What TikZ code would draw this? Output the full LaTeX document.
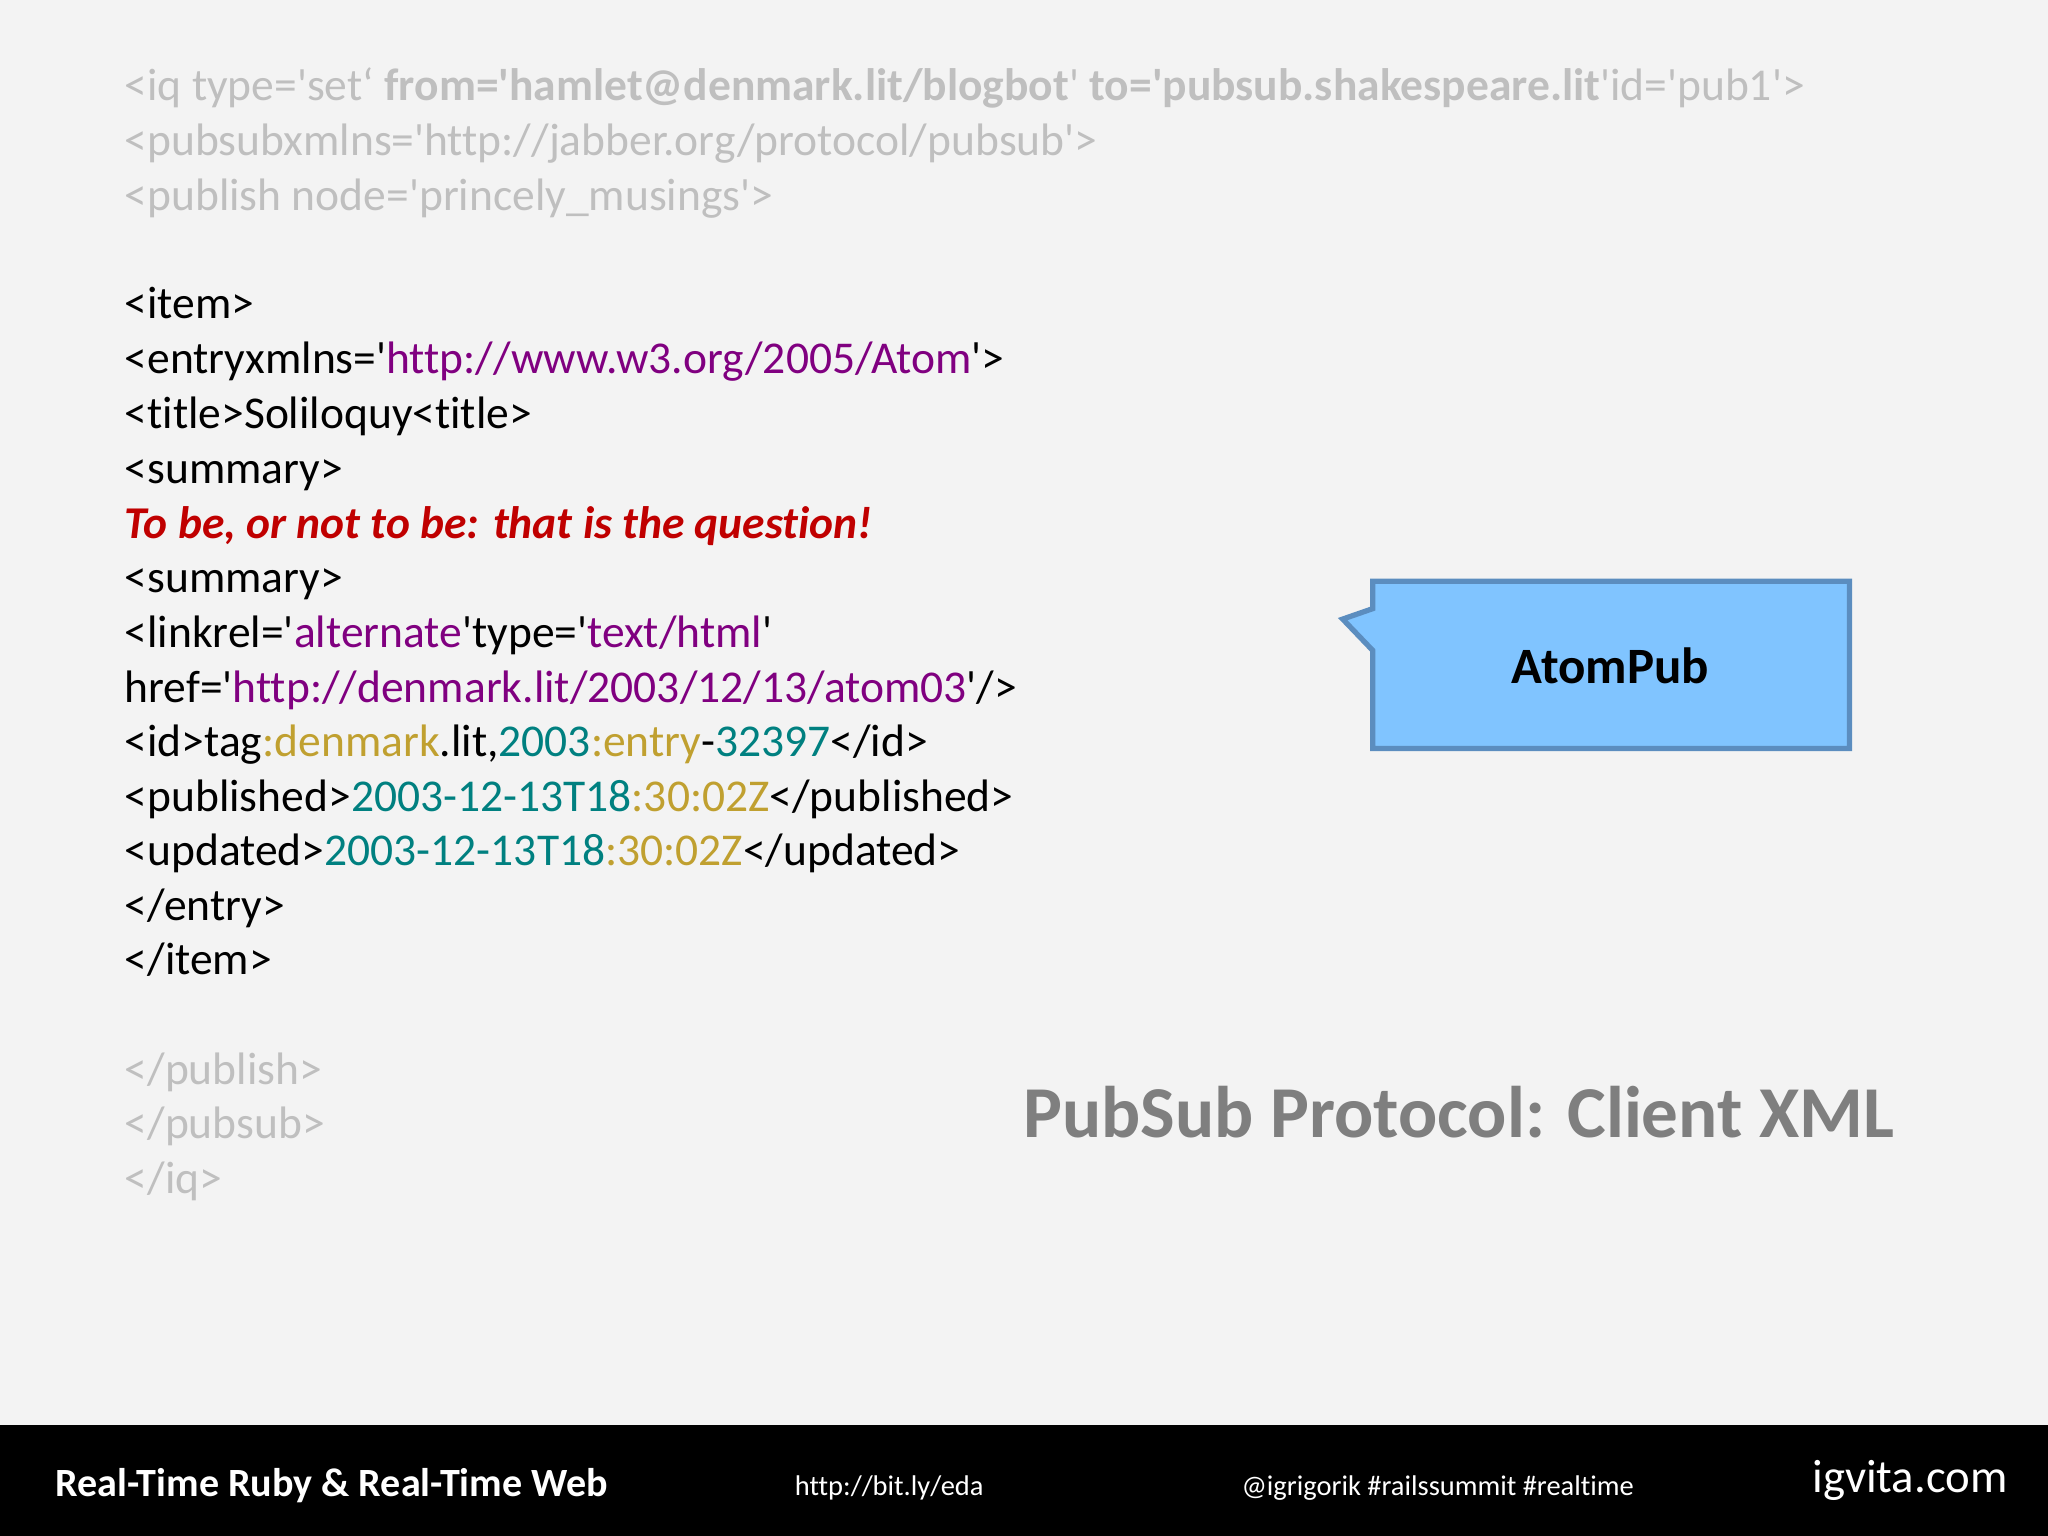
\documentclass[tikz,border=0pt]{standalone}
\usepackage{fontspec}
\setmainfont[Ligatures={TeXOff,NoCommon}]{Carlito}
\definecolor{bg}{HTML}{F3F3F3}
\definecolor{lg}{HTML}{BFBFBF}
\definecolor{pu}{HTML}{800080}
\definecolor{go}{HTML}{C0A030}
\definecolor{te}{HTML}{008080}
\definecolor{rd}{HTML}{C00000}
\definecolor{bfill}{HTML}{80C4FF}
\definecolor{bedge}{HTML}{5B8DBF}
\definecolor{tg}{HTML}{7F7F7F}
\begin{document}
\begin{tikzpicture}[x=0.013061cm,y=-0.013061cm,
  ln/.style={anchor=base west,inner sep=0pt,font=\fontsize{12.95}{16}\selectfont},
  gl/.style={ln,text=lg},
  foot/.style={anchor=base west,inner sep=0pt,text=white}]
\fill[bg] (0,0) rectangle (1568,1176);
\useasboundingbox (0,0) rectangle (1568,1176);
\node[gl] (l1) at (95,77) {<iq type='set‘ \textbf{from='hamlet@denmark.lit/blogbot}' \textbf{to='pubsub.shakespeare.lit}'id='pub1'>};
\node[gl] (l2) at (95,119) {<pubsubxmlns='http://jabber.org/protocol/pubsub'>};
\node[gl] (l3) at (95,161) {<publish node='princely\_musings'>};
\node[ln] (l4) at (95,244) {<item>};
\node[ln] (l5) at (95,286) {<entryxmlns='\textcolor{pu}{http://www.w3.org/2005/Atom}'>};
\node[ln] (l6) at (95,328) {<title>Soliloquy<title>};
\node[ln] (l7) at (95,370) {<summary>};
\node[ln,text=rd] (l8) at (95,412) {\textbf{\textit{To be, or not to be: that is the question!}}};
\node[ln] (l9) at (95,454) {<summary>};
\node[ln] (l10) at (95,496) {<linkrel='\textcolor{pu}{alternate}'type='\textcolor{pu}{text/html}'};
\node[ln] (l11) at (95,538) {href='\textcolor{pu}{http://denmark.lit/2003/12/13/atom03}'/>};
\node[ln] (l12) at (95,579) {<id>tag\textcolor{go}{:denmark}.lit,\textcolor{te}{2003}\textcolor{go}{:entry}-\textcolor{te}{32397}</id>};
\node[ln] (l13) at (95,621) {<published>\textcolor{te}{2003-12-13T18}\textcolor{go}{:30:02Z}</published>};
\node[ln] (l14) at (95,663) {<updated>\textcolor{te}{2003-12-13T18}\textcolor{go}{:30:02Z}</updated>};
\node[ln] (l15) at (95,705) {</entry>};
\node[ln] (l16) at (95,746) {</item>};
\node[gl] (l17) at (95,830) {</publish>};
\node[gl] (l18) at (95,872) {</pubsub>};
\node[gl] (l19) at (95,914) {</iq>};
\draw[bedge,fill=bfill,line width=1.5pt] (1051,445) -- (1416,445) -- (1416,573) -- (1051,573) -- (1051,498) -- (1028,474) -- (1051,466) -- cycle;
\node[font=\fontsize{14.5}{18}\selectfont\bfseries] (ap) at (1233,510) {AtomPub};
\node[anchor=base west,inner sep=0pt,text=tg,font=\fontsize{20.8}{25}\selectfont\bfseries] (title) at (783,871) {PubSub Protocol: Client XML};
\fill[black] (0,1091) rectangle (1568,1176);
\node[foot,font=\fontsize{11.4}{14}\selectfont\bfseries] (f1) at (42,1146) {Real-Time Ruby \& Real-Time Web};
\node[foot,font=\fontsize{8.1}{10}\selectfont] (f2) at (608,1145) {http://bit.ly/eda};
\node[foot,font=\fontsize{8.1}{10}\selectfont] (f3) at (950,1145) {@igrigorik \#railssummit \#realtime};
\node[foot,font=\fontsize{13.3}{16}\selectfont] (f4) at (1387,1143) {igvita.com};
\end{tikzpicture}
\end{document}
